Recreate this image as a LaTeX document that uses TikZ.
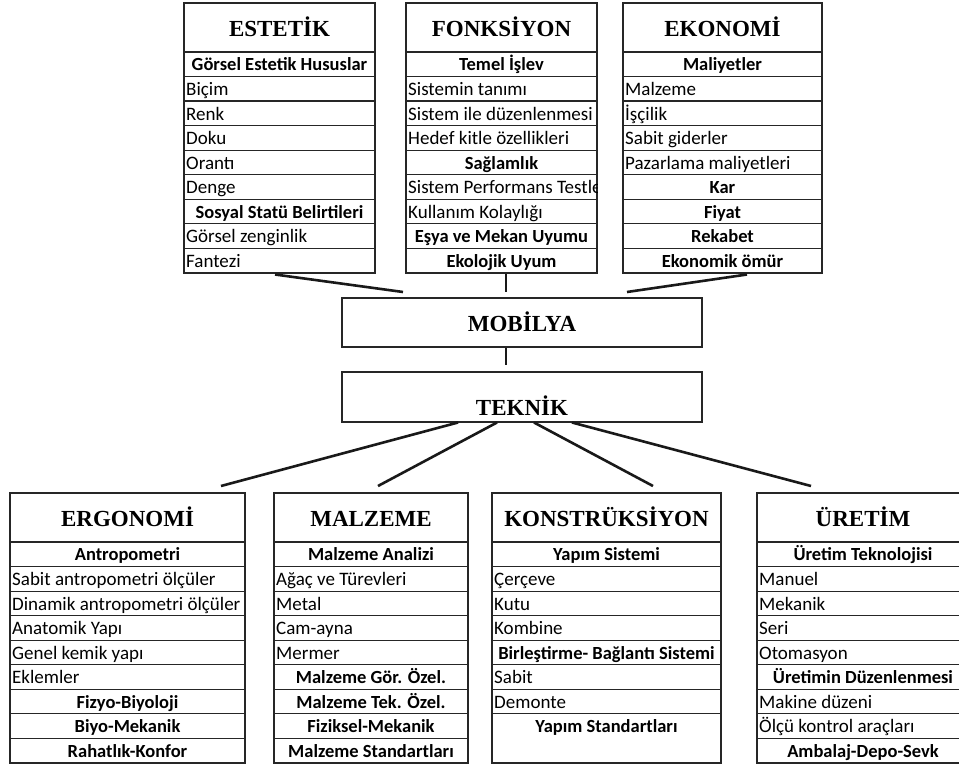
\documentclass[tikz,border=0pt]{standalone}
\usepackage{fontspec}
\setmainfont{Carlito}
\newfontfamily\hdrfont{Liberation Serif}
\tikzset{
  hdr/.style={draw=black!85, line width=1.2pt, inner sep=0pt, outer sep=0pt, rectangle},
  cell/.style={draw=black!85, line width=1.2pt, inner sep=0pt, outer sep=0pt, rectangle, minimum height=24.55pt},
  hdrtxt/.style={font=\hdrfont\bfseries\fontsize{23}{23}\selectfont, inner sep=0pt, anchor=base},
  txtC/.style={font=\bfseries\fontsize{18.5}{18.5}\selectfont, inner sep=0pt, anchor=base, yshift=5.6pt},
  txtL/.style={font=\fontsize{19}{19}\selectfont, inner sep=0pt, anchor=base west, xshift=2pt, yshift=5.6pt},
  conn/.style={line width=2.6pt, draw=black!90},
}
\newcommand\catbox[6]{%
  \pgfmathsetmacro\bw{#3-#2}%
  \node[hdr, minimum width=\bw pt, minimum height=49pt, anchor=north west] (#1) at (#2,#4) {};
  \node[hdrtxt] (#1-t) at ([yshift=15.3pt]#1.south) {#5};
  \foreach[count=\i] \s/\t in {#6} {
    \pgfmathsetmacro\yy{#4+49+(\i-1)*24.55}
    \node[cell, minimum width=\bw pt, anchor=north west] (#1-\i) at (#2,\yy) {};
    \if\s C\def\anc{south}\else\def\anc{south west}\fi
    \begin{scope}
      \clip (#1-\i.south west) rectangle (#1-\i.north east);
      \node[txt\s] (#1-\i-t) at (#1-\i.\anc) {\t};
    \end{scope}
  }
}
\begin{document}
\begin{tikzpicture}[x=1pt, y=-1pt]
\useasboundingbox (0,0) rectangle (959,768);
\clip (0,0) rectangle (959,768);
\fill[white] (0,0) rectangle (959,768);

% top boxes
\catbox{est}{184}{375}{3}{ESTETİK}{C/Görsel Estetik Hususlar, L/Biçim, L/Renk, L/Doku, L/Orantı, L/Denge, C/Sosyal Statü Belirtileri, L/Görsel zenginlik, L/Fantezi}
\catbox{fon}{406}{597}{3}{FONKSİYON}{C/Temel İşlev, L/Sistemin tanımı, L/Sistem ile düzenlenmesi, L/Hedef kitle özellikleri, C/Sağlamlık, L/Sistem Performans Testleri, L/Kullanım Kolaylığı, C/Eşya ve Mekan Uyumu, C/Ekolojik Uyum}
\catbox{eko}{623}{822}{3}{EKONOMİ}{C/Maliyetler, L/Malzeme, L/İşçilik, L/Sabit giderler, L/Pazarlama maliyetleri, C/Kar, C/Fiyat, C/Rekabet, C/Ekonomik ömür}

% middle boxes
\node[hdr, minimum width=360pt, minimum height=49pt, anchor=north west] (mob) at (342,298) {};
\node[hdrtxt] (mob-t) at ([yshift=15.3pt]mob.south) {MOBİLYA};
\node[hdr, minimum width=360pt, minimum height=50pt, anchor=north west] (tek) at (342,372) {};
\node[hdrtxt] (tek-t) at ([yshift=7pt]tek.south) {TEKNİK};

% bottom boxes
\catbox{erg}{10}{245}{493}{ERGONOMİ}{C/Antropometri, L/Sabit antropometri ölçüler, L/Dinamik antropometri ölçüler, L/Anatomik Yapı, L/Genel kemik yapı, L/Eklemler, C/Fizyo-Biyoloji, C/Biyo-Mekanik, C/Rahatlık-Konfor}
\catbox{mal}{274}{468}{493}{MALZEME}{C/Malzeme Analizi, L/Ağaç ve Türevleri, L/Metal, L/Cam-ayna, L/Mermer, C/Malzeme Gör. Özel., C/Malzeme Tek. Özel., C/Fiziksel-Mekanik, C/Malzeme Standartları}
\catbox{kon}{492}{721}{493}{KONSTRÜKSİYON}{C/Yapım Sistemi, L/Çerçeve, L/Kutu, L/Kombine, C/Birleştirme- Bağlantı Sistemi, L/Sabit, L/Demonte}
\node[cell, minimum width=229pt, minimum height=49.1pt, anchor=north west] (kon-8) at (492,713.85) {};
\node[txtC] (kon-8-t) at ([yshift=24.55pt]kon-8.south) {Yapım Standartları};
\catbox{ure}{757}{969}{493}{ÜRETİM}{C/Üretim Teknolojisi, L/Manuel, L/Mekanik, L/Seri, L/Otomasyon, C/Üretimin Düzenlenmesi, L/Makine düzeni, L/Ölçü kontrol araçları, C/Ambalaj-Depo-Sevk}

% connector ends
\coordinate (a1) at (275,274.5);  \coordinate (a2) at (403,292);
\coordinate (b1) at (506,273.5);  \coordinate (b2) at (506,291.5);
\coordinate (c1) at (747,274.5);  \coordinate (c2) at (627,292);
\coordinate (m1) at (506,347.5);  \coordinate (m2) at (506,365);
\coordinate (t1) at (458,422.5);  \coordinate (e1) at (221,486);
\coordinate (t2) at (497,422.5);  \coordinate (e2) at (378,486);
\coordinate (t3) at (534,422.5);  \coordinate (e3) at (653,486);
\coordinate (t4) at (572,422.5);  \coordinate (e4) at (811,486);

\draw[conn] (a1) -- (a2);
\draw[conn] (b1) -- (b2);
\draw[conn] (c1) -- (c2);
\draw[conn] (m1) -- (m2);
\draw[conn] (t1) -- (e1);
\draw[conn] (t2) -- (e2);
\draw[conn] (t3) -- (e3);
\draw[conn] (t4) -- (e4);
\end{tikzpicture}
\end{document}
